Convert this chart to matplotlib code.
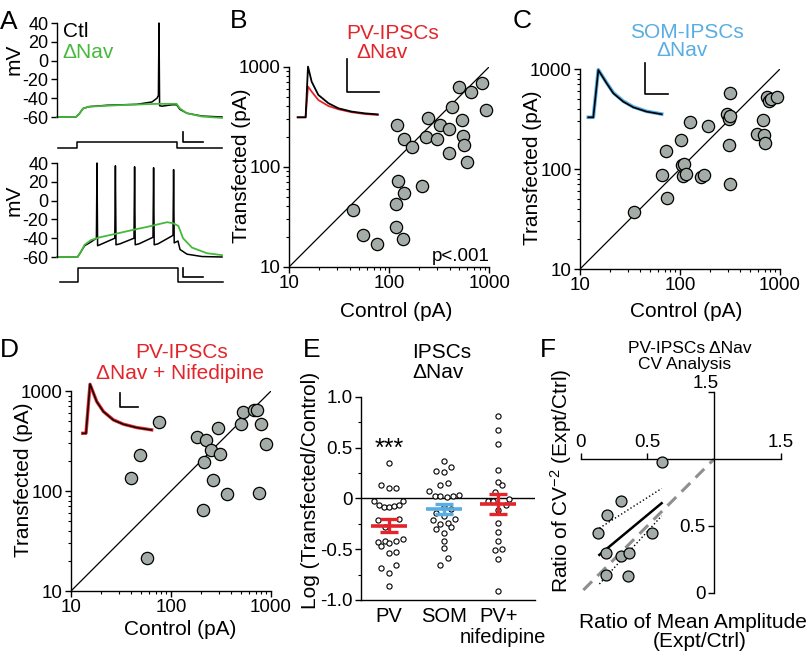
import matplotlib
matplotlib.use("Agg")
import matplotlib.pyplot as plt
from matplotlib.ticker import NullFormatter, MultipleLocator

plt.rcParams['font.family'] = ['Liberation Sans', 'DejaVu Sans']
plt.rcParams['mathtext.fontset'] = 'custom'
plt.rcParams['mathtext.rm'] = 'Liberation Sans'
plt.rcParams['mathtext.it'] = 'Liberation Sans:italic'
plt.rcParams['axes.unicode_minus'] = False
plt.rcParams['axes.linewidth'] = 1.0
plt.rcParams['xtick.major.width'] = 1.0
plt.rcParams['ytick.major.width'] = 1.0
plt.rcParams['xtick.minor.width'] = 0.8
plt.rcParams['ytick.minor.width'] = 0.8
plt.rcParams['xtick.major.size'] = 4
plt.rcParams['ytick.major.size'] = 4
plt.rcParams['xtick.minor.size'] = 2.5
plt.rcParams['ytick.minor.size'] = 2.5
plt.rcParams['xtick.major.pad'] = 2
plt.rcParams['ytick.major.pad'] = 2

RED = '#e3252b'
BLUE = '#58ade2'
GREEN = '#46b93c'
GRAY = '#a3aca7'

# ---------------- data ----------------
# A: membrane potential sweeps (ms, mV)
a_top_t_ctl = [0, 95, 110, 130, 160, 250, 400, 475, 500, 507, 510, 513, 525, 575, 598, 615, 650, 725, 825]
a_top_v_ctl = [-60, -60, -57, -51, -49, -47.5, -46.5, -44, -40, -37, 40, -48, -48.5, -47, -47, -52, -56, -59, -60]
a_top_t_nav = [0, 95, 110, 130, 160, 300, 500, 598, 615, 650, 725, 825]
a_top_v_nav = [-60, -60, -57, -51, -49, -47.5, -46, -46, -51, -56, -59.5, -61]

a_bot_t_ctl = [0, 103, 118, 138, 170, 197, 200, 203, 225, 289, 292, 295, 315, 385, 388, 391, 410,
               480, 483, 486, 505, 580, 583, 586, 605, 615, 650, 725, 825]
a_bot_v_ctl = [-60, -60, -55, -48, -44, -40, 40, -48, -46, -40, 37, -47, -46, -40, 36, -47, -46,
               -39, 35, -47, -46, -37, 33, -45, -43, -52, -57, -59.5, -60]
a_bot_t_nav = [0, 103, 118, 138, 170, 215, 300, 383, 450, 550, 580, 607, 630, 675, 750, 825]
a_bot_v_nav = [-60, -60, -55, -47, -42, -39, -35, -31, -28, -23, -24, -27, -40, -50, -56, -58]

a_top_cmd_t = [7, 98, 98, 598, 598, 825]
a_bot_cmd_t = [15, 103, 103, 607, 607, 828]
a_cmd_level = [0, 0, 1, 1, 0, 0]

# B: PV-IPSCs, dNav (pA)
b_ctrl = [43, 55, 76, 118, 136, 117, 123, 141, 210, 120, 140, 167, 234, 245, 302, 321, 398, 420,
          398, 501, 529, 541, 562, 593, 650, 838, 926]
b_tfx = [36.7, 20.9, 16.8, 24.8, 19, 42.8, 71.4, 54.7, 63.7, 262, 191, 156, 199, 306, 189, 262, 239, 394,
         137, 631, 290, 204, 163, 111, 560, 682, 370]

# C: SOM-IPSCs, dNav (pA)
c_ctrl = [34.7, 65.6, 72.4, 74.7, 101.6, 104, 109.6, 106, 114, 126, 161, 174, 189, 316, 297, 311, 316,
          311, 316, 584, 671, 697, 708, 747, 782, 807, 926]
c_tfx = [37, 88, 150, 51, 194, 109, 113, 86, 90, 292, 84, 88, 268, 570, 351, 313, 338,
         175, 70, 226, 308, 221, 180, 528, 481, 503, 528]

# D: PV-IPSCs, dNav + nifedipine (pA)
d_ctrl = [40, 49, 57.8, 76.6, 180, 226, 253, 307, 214, 295, 263, 365, 209, 503, 523, 673, 726, 802, 892, 753]
d_tfx = [134.5, 231, 21.6, 491, 343, 322, 259, 236, 195, 428, 128, 94, 64.7, 466, 620, 644, 644, 473, 293, 95]

# inset IPSC traces (ms, pA)
b_ins_t = [0, 5, 6.5, 8.8, 13, 19.4, 25.7, 34, 42.5, 50.5]
b_ins_ctl = [0, 0, 310, 218, 137, 86, 55, 35, 24, 18]
b_ins_nav = [0, 0, 188, 157, 106, 69, 49, 31, 20, 14]
c_ins_t = [0, 4.3, 8.6, 15.7, 21.5, 30, 38.6, 50, 63]
c_ins_ctl = [0, 0, 308, 222, 156, 102, 65, 37, 20]
c_ins_nav = [0, 0, 310, 225, 160, 105, 68, 39, 21]
d_ins_t = [0, 3.6, 8, 15.3, 22.6, 33.5, 44.5, 59, 75.4]
d_ins_ctl = [0, 0, 705, 452, 310, 190, 129, 81, 48]
d_ins_nav = [0, 0, 700, 455, 312, 192, 130, 82, 49]

# E: log(transfected/control)
groups = ['PV', 'SOM', 'PV+']
pv_vals = [0.344, 0.134, 0.101, 0.101, -0.026, -0.066, -0.089, -0.089, -0.072, -0.066, -0.026, -0.213, -0.207,
           -0.279, -0.427, -0.417, -0.466, -0.443, -0.420, -0.397, -0.541, -0.525, -0.689, -0.659, -0.735, -0.863]
pv_off = [0, -0.147, 0, 0.128, -0.275, -0.183, -0.092, 0, 0.092, 0.183, 0.263, -0.196, 0.19,
          -0.073, -0.202, -0.073, -0.141, 0, 0.128, 0.263, 0, 0.128, -0.141, 0.128, 0, 0]
som_vals = [0.370, 0.311, 0.272, 0.256, 0.131, 0.151, 0.069, 0.026, 0.020, 0.010, 0.020, 0.033, -0.082, -0.108,
            -0.148, -0.174, -0.213, -0.253, -0.246, -0.207, -0.279, -0.302, -0.338, -0.417, -0.492, -0.590, -0.659]
som_off = [0, 0.135, -0.135, 0, -0.061, 0.073, -0.275, -0.153, -0.061, 0.061, 0.165, 0.275, 0, 0.135,
           -0.135, 0, -0.196, -0.061, 0.073, 0.214, 0.135, -0.135, 0, 0, 0, 0.073, -0.061]
nif_vals = [0.810, 0.672, 0.531, 0.279, 0.157, 0.131, 0.066, -0.026, -0.026, -0.010, -0.066, -0.115,
            -0.246, -0.335, -0.417, -0.508, -0.498, -0.597, -0.915]
nif_off = [0, 0, 0, 0, 0, 0.073, -0.061, -0.196, -0.104, 0.202, 0.135, 0,
           0, 0, 0, -0.061, 0.073, 0, 0]
group_mean = [-0.268, -0.108, -0.058]
group_sem = [0.061, 0.049, 0.10]

# F: CV analysis
f_amp = [0.607, 0.30, 0.195, 0.132, 0.537, 0.19, 0.30, 0.365, 0.187, 0.357]
f_cv = [0.98, 0.69, 0.58, 0.445, 0.445, 0.295, 0.275, 0.295, 0.132, 0.125]
fit_x = [0.14, 0.607]
fit_y = [0.283, 0.67]
ci_hi_y = [0.483, 0.78]
ci_lo_y = [0.065, 0.575]
unity = [0.02, 1.0]

# ---------------- figure ----------------
W, H = 807, 662
fig = plt.figure(figsize=(W / 100, H / 100), dpi=100)


def px_axes(x0, y0, x1, y1):
    return fig.add_axes([x0 / W, 1 - y1 / H, (x1 - x0) / W, (y1 - y0) / H])


def ftext(x, y, s, **kw):
    return fig.text(x / W, 1 - y / H, s, **kw)


def scale_bar(ax, t0, y0, dt, dy):
    ax.plot([t0, t0, t0 + dt], [y0 + dy, y0, y0], color='black', lw=1.2, clip_on=False)


# ---- A ----
def volt_axes(top, bottom, y40, y60):
    k = (y60 - y40) / 100.0
    ax = px_axes(57, top, 222, bottom)
    ax.set_xlim(0, 825)
    ax.set_ylim(-60 - (bottom - y60) / k, 40 + (y40 - top) / k)
    for s in ['top', 'right', 'bottom']:
        ax.spines[s].set_visible(False)
    ax.spines['left'].set_bounds(-60, 40)
    ax.set_xticks([])
    ax.set_yticks([-60, -40, -20, 0, 20, 40])
    ax.tick_params(axis='y', labelsize=13)
    ax.patch.set_visible(False)
    return ax, (lambda ypx: 40 - (ypx - y40) / k)


ax, to_mv = volt_axes(20, 152, 23, 117)
ax.plot(a_top_t_ctl, a_top_v_ctl, color='black', lw=1.1, clip_on=False)
ax.plot(a_top_t_nav, a_top_v_nav, color=GREEN, lw=1.3, clip_on=False)
lo, hi = to_mv(147.7), to_mv(142)
ax.plot(a_top_cmd_t, [lo + l * (hi - lo) for l in a_cmd_level], color='black', lw=1.1, clip_on=False)
scale_bar(ax, 628, to_mv(141.7), 100, 10)

ax, to_mv = volt_axes(160, 290, 163, 257)
ax.plot(a_bot_t_ctl, a_bot_v_ctl, color='black', lw=1.1, clip_on=False)
ax.plot(a_bot_t_nav, a_bot_v_nav, color=GREEN, lw=1.3, clip_on=False)
lo, hi = to_mv(282), to_mv(268)
ax.plot(a_bot_cmd_t, [lo + l * (hi - lo) for l in a_cmd_level], color='black', lw=1.1, clip_on=False)
scale_bar(ax, 628, to_mv(277), 100, 10)

ftext(14, 59, 'mV', rotation=90, ha='center', va='center', fontsize=15)
ftext(14, 200, 'mV', rotation=90, ha='center', va='center', fontsize=15)
ftext(63, 36.7, 'Ctl', fontsize=15, va='baseline')
ftext(62, 58.3, 'ΔNav', fontsize=15, va='baseline', color=GREEN)


# ---- B, C, D ----
def scatter_axes(x0, y0, ctrl, tfx):
    ax = px_axes(x0, y0, x0 + 200, y0 + 200)
    ax.set_xscale('log')
    ax.set_yscale('log')
    ax.set_xlim(10, 1000)
    ax.set_ylim(10, 1000)
    ax.spines['top'].set_visible(False)
    ax.spines['right'].set_visible(False)
    ax.set_xticks([10, 100, 1000])
    ax.set_yticks([10, 100, 1000])
    ax.set_xticklabels(['10', '100', '1000'])
    ax.set_yticklabels(['10', '100', '1000'])
    ax.xaxis.set_minor_formatter(NullFormatter())
    ax.yaxis.set_minor_formatter(NullFormatter())
    ax.tick_params(labelsize=13.5)
    ax.patch.set_visible(False)
    ax.plot([10, 1000], [10, 1000], color='black', lw=0.9)
    ax.scatter(ctrl, tfx, s=78, facecolor=GRAY, edgecolor='black', linewidth=0.9, zorder=3, clip_on=False)
    return ax


def inset(x0, base, kx, ky, width_px, up_px, down_px):
    ax = px_axes(x0, base - up_px, x0 + width_px, base + down_px)
    ax.set_xlim(0, width_px / kx)
    ax.set_ylim(-down_px / ky, up_px / ky)
    ax.axis('off')
    return ax


scatter_axes(289.3, 66.7, b_ctrl, b_tfx)
ins = inset(297.7, 117.3, 1.585, 0.1635, 84, 62, 4)
ins.plot(b_ins_t, b_ins_nav, color=RED, lw=1.3, clip_on=False)
ins.plot(b_ins_t, b_ins_ctl, color='black', lw=1.3, clip_on=False)
scale_bar(ins, 31.3, 156.6, 20, 200)
ftext(490, 261, 'p<.001', ha='right', va='baseline', fontsize=13.5)

scatter_axes(580, 69, c_ctrl, c_tfx)
ins = inset(588.3, 117.3, 1.165, 0.1535, 82, 56, 4)
ins.plot(c_ins_t, c_ins_nav, color=BLUE, lw=2.6, clip_on=False)
ins.plot(c_ins_t, c_ins_ctl, color='black', lw=1.2, clip_on=False)
scale_bar(ins, 48.7, 152, 20, 200)

scatter_axes(71, 391, d_ctrl, d_tfx)
ins = inset(82.7, 433.3, 0.915, 0.07, 72, 52, 4)
ins.plot(d_ins_t, d_ins_nav, color=RED, lw=2.4, clip_on=False)
ins.plot(d_ins_t, d_ins_ctl, color='black', lw=1.0, clip_on=False)
scale_bar(ins, 40.8, 380, 20, 200)

# axis labels and titles for B, C, D
ftext(396, 316.7, 'Control (pA)', ha='center', va='baseline', fontsize=15)
ftext(686.5, 316.7, 'Control (pA)', ha='center', va='baseline', fontsize=15)
ftext(180, 635, 'Control (pA)', ha='center', va='baseline', fontsize=15)
ftext(241.5, 166, 'Transfected (pA)', rotation=90, ha='center', va='center', fontsize=15)
ftext(532.5, 168, 'Transfected (pA)', rotation=90, ha='center', va='center', fontsize=15)
ftext(23.5, 480, 'Transfected (pA)', rotation=90, ha='center', va='center', fontsize=15)

ftext(393, 39.3, 'PV-IPSCs', ha='center', va='baseline', fontsize=15, color=RED)
ftext(382, 58.3, 'ΔNav', ha='center', va='baseline', fontsize=15, color=RED)
ftext(686.7, 38.3, 'SOM-IPSCs', ha='center', va='baseline', fontsize=15, color=BLUE)
ftext(682.5, 55.5, 'ΔNav', ha='center', va='baseline', fontsize=15, color=BLUE)
ftext(181.7, 358.3, 'PV-IPSCs', ha='center', va='baseline', fontsize=15, color=RED)
ftext(180, 379.3, 'ΔNav + Nifedipine', ha='center', va='baseline', fontsize=15, color=RED)

# ---- E ----
ax = px_axes(360.7, 396.7, 535, 600)
ax.set_xlim(-0.518, 2.67)
ax.set_ylim(-1, 1)
ax.spines['top'].set_visible(False)
ax.spines['right'].set_visible(False)
ax.patch.set_visible(False)
ax.set_yticks([-1, -0.5, 0, 0.5, 1])
ax.set_yticklabels(['-1.0', '-0.5', '0', '0.5', '1.0'])
ax.yaxis.set_minor_locator(MultipleLocator(0.25))
ax.tick_params(axis='y', labelsize=13.5)
ax.set_xticks([0, 1, 2])
ax.set_xticklabels(groups, fontsize=14.5)
ax.tick_params(axis='x', length=0, pad=5)
ax.axhline(0, color='black', lw=1.0, zorder=1)
for i, (vals, offs) in enumerate([(pv_vals, pv_off), (som_vals, som_off), (nif_vals, nif_off)]):
    ax.scatter([i + o for o in offs], vals, s=14, facecolor='white', edgecolor='black',
               linewidth=0.8, zorder=2)
bar_colors = [RED, BLUE, RED]
for i in range(3):
    ax.hlines(group_mean[i], i - 0.33, i + 0.33, color=bar_colors[i], lw=2.6, zorder=4)
    ax.errorbar(i, group_mean[i], yerr=group_sem[i], fmt='none', ecolor=bar_colors[i],
                elinewidth=2.4, capsize=6.2, capthick=2.4, zorder=4)
ftext(503, 643, 'nifedipine', ha='center', va='baseline', fontsize=14.5)
ftext(389, 456, '***', ha='center', va='baseline', fontsize=18)
ftext(310, 490, 'Log (Transfected/Control)', rotation=90, ha='center', va='center', fontsize=15)
ftext(441.7, 358.3, 'IPSCs', ha='center', va='baseline', fontsize=15)
ftext(438, 378.3, 'ΔNav', ha='center', va='baseline', fontsize=15)

# ---- F ----
ax = px_axes(580.7, 392.3, 780.7, 592.7)
ax.set_xlim(0, 1.5)
ax.set_ylim(0, 1.5)
ax.patch.set_visible(False)
ax.spines['bottom'].set_visible(False)
ax.spines['right'].set_visible(False)
ax.spines['top'].set_position(('data', 1.0))
ax.spines['left'].set_position(('data', 1.0))
ax.xaxis.set_ticks_position('top')
ax.yaxis.set_ticks_position('left')
ax.set_xticks([0, 0.5, 1.5])
ax.set_xticklabels(['0', '0.5', '1.5'])
ax.set_yticks([0, 0.5, 1.5])
ax.set_yticklabels(['0', '0.5', '1.5'])
ax.tick_params(labelsize=13.5)
top_label = ax.get_yticklabels()[-1]
top_label.set_horizontalalignment('center')
top_label.set_verticalalignment('bottom')
ax.plot(unity, unity, color='#8f8f8f', lw=2.2, dashes=(4, 2.5), zorder=2)
ax.plot(fit_x, ci_hi_y, color='black', lw=1.0, ls=':', zorder=2)
ax.plot(fit_x, ci_lo_y, color='black', lw=1.0, ls=':', zorder=2)
ax.plot(fit_x, fit_y, color='black', lw=1.8, zorder=2)
ax.scatter(f_amp, f_cv, s=62, facecolor=GRAY, edgecolor='black', linewidth=0.9, zorder=3, clip_on=False)
ftext(690, 353.3, 'PV-IPSCs ΔNav', ha='center', va='baseline', fontsize=12.5)
ftext(685, 369, 'CV Analysis', ha='center', va='baseline', fontsize=12.5)
ftext(693, 627.7, 'Ratio of Mean Amplitude', ha='center', va='baseline', fontsize=15)
ftext(700, 646.7, '(Expt/Ctrl)', ha='center', va='baseline', fontsize=15)
ftext(561, 481, 'Ratio of CV$^{-2}$ (Expt/Ctrl)', rotation=90, ha='center', va='center', fontsize=15)

# ---- panel letters ----
for letter, x, y in [('A', 0, 29), ('B', 230, 28), ('C', 513, 28),
                     ('D', 0, 357), ('E', 303, 357), ('F', 540, 357)]:
    ftext(x, y, letter, fontsize=19, va='baseline', ha='left')

fig.savefig('out.png', dpi=100)
